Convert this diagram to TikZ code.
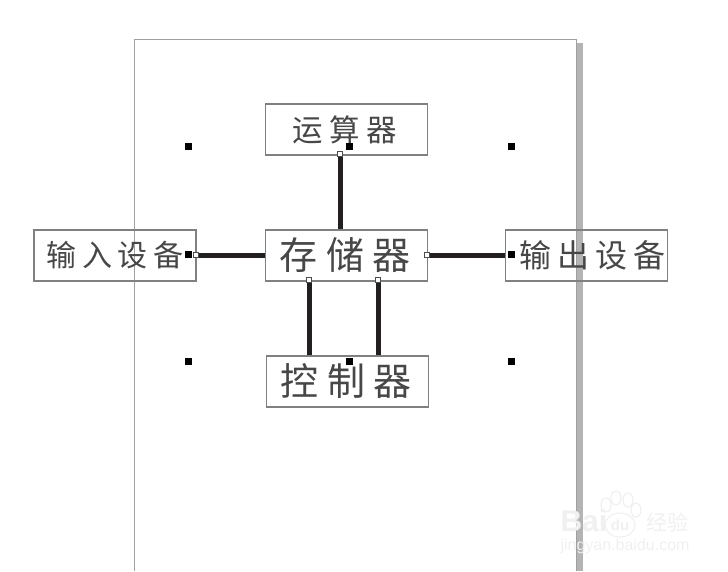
\documentclass[tikz,border=0pt]{standalone}
\usepackage{fontspec}
\usetikzlibrary{positioning}
\newfontfamily\cjkplain{Noto Sans CJK SC}
\newfontfamily\cjksmall[LetterSpace=22]{Noto Sans CJK SC}
\newfontfamily\cjkwide[LetterSpace=18]{Noto Sans CJK SC}
\newfontfamily\cjklarge[LetterSpace=23]{Noto Sans CJK SC}
\setsansfont{Liberation Sans}
\definecolor{linkdark}{HTML}{231F20}
\definecolor{boxgray}{HTML}{808080}
\definecolor{pagegray}{HTML}{A0A0A0}
\definecolor{shadowgray}{HTML}{B4B4B4}
\definecolor{markgray}{HTML}{F0F0F0}

\begin{document}
\begin{tikzpicture}[
    x=1pt, y=-1pt,
    box/.style={rectangle, draw=boxgray, line width=1.1pt, minimum height=51pt, minimum width=162pt, inner sep=0pt, align=center, text=black!72},
    link/.style={draw=linkdark, line width=5.8pt},
    handle/.style={rectangle, fill=black, minimum size=7pt, inner sep=0pt},
    grip/.style={rectangle, draw=black!70, fill=white, line width=0.7pt, minimum size=5pt, inner sep=0pt}
]
\useasboundingbox (0,0) rectangle (728,571);

% page and its shadow
\fill[shadowgray] (576.5,43) rectangle (583,571);
\draw[pagegray, line width=1pt] (134.5,571) -- (134.5,39.5) -- (576.5,39.5) -- (576.5,571);

\node[box] (memory) at (346.5,255.5) {\hspace*{-3pt}\fontsize{38pt}{40pt}\cjklarge 存储器};
\node[box, above=73.9pt of memory] (alu) {\hspace*{-4pt}\fontsize{30.5pt}{33pt}\cjksmall 运算器};
\node[box, below=73.9pt of memory, xshift=1pt] (control) {\hspace*{-3pt}\fontsize{38pt}{40pt}\cjklarge 控制器};
\node[box, left=68.4pt of memory] (input) {\fontsize{30pt}{32pt}\cjkwide 输入设备};
\node[box, right=76.9pt of memory] (output) {\hspace*{12pt}\fontsize{32pt}{34pt}\cjkwide 输出设备};

\draw[link] (input) -- (memory);
\draw[link] (memory) -- (output);
\draw[link] ([xshift=-6pt]alu.south) -- ([xshift=-6pt]memory.north);
\draw[link] ([xshift=-37pt]memory.south) -- ([xshift=-38pt]control.north);
\draw[link] ([xshift=32pt]memory.south) -- ([xshift=31pt]control.north);

% selection handles
\foreach \name/\px/\py in {a/188.5/146, b/349/146, c/511/146, d/188.5/254, e/511/254, f/188.5/361, g/349/361, h/511/361}
    \node[handle] (handle\name) at (\px,\py) {};

% end grips of the links
\node[grip] (gripa) at (340,154) {};
\node[grip] (gripb) at (196,255) {};
\node[grip] (gripc) at (427,255) {};
\node[grip] (gripd) at (309,280) {};
\node[grip] (gripe) at (378,280) {};

% watermark
\node[font=\sffamily\bfseries\fontsize{30pt}{30pt}\selectfont, text=markgray, anchor=west] (markbai) at (557,521) {Bai};
\node[font=\sffamily\bfseries\fontsize{15pt}{15pt}\selectfont, text=markgray] (markdu) at (620,525) {du};
\draw[markgray, line width=1.2pt] (620,525) ellipse (15 and 12);
\foreach \px/\py/\rx/\ry in {606/505/5/7, 616/498/5/7, 628/500/5/7, 636/510/5/7}
    \draw[markgray, line width=1.2pt] (\px,\py) ellipse (\rx pt and \ry pt);
\node[font=\fontsize{21pt}{21pt}\selectfont\cjkplain, text=markgray, anchor=west] (markjy) at (643,522) {经验};
\node[font=\sffamily\fontsize{16pt}{17pt}\selectfont, text=markgray, anchor=west] (markurl) at (557,546) {jingyan.baidu.com};

\end{tikzpicture}
\end{document}
